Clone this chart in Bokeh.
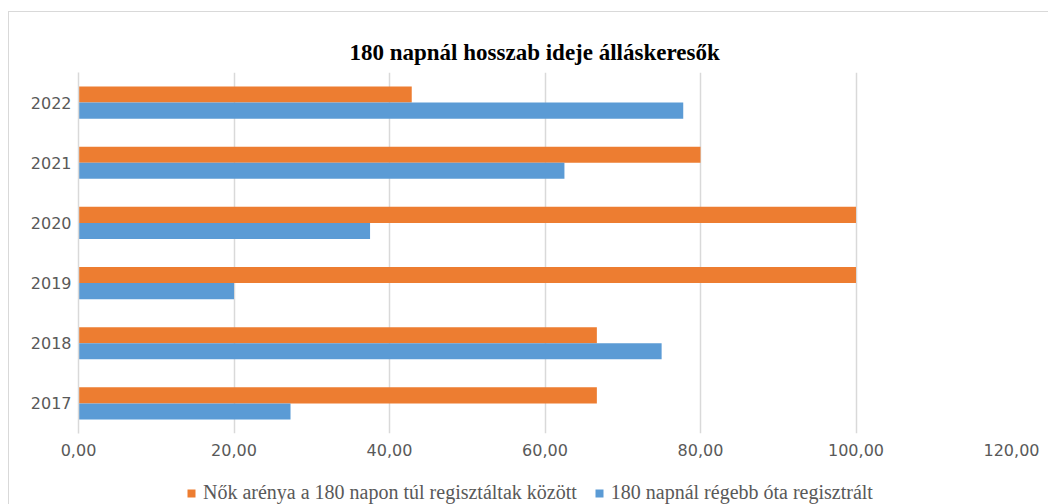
from bokeh.plotting import figure
from bokeh.layouts import column
from bokeh.models import (FactorRange, Range1d, ColumnDataSource, Legend, LegendItem,
                          CustomJSTickFormatter, FixedTicker)
from bokeh.transform import dodge
from bokeh.embed import file_html
from bokeh.resources import INLINE

years = ["2017", "2018", "2019", "2020", "2021", "2022"]
women_share = [66.67, 66.67, 100.0, 100.0, 80.0, 42.86]
long_term = [27.27, 75.0, 20.0, 37.5, 62.5, 77.78]
x_ticks = [0, 20, 40, 60, 80, 100, 120]
title_text = "180 napnál hosszab ideje álláskeresők"
label_women = "Nők arénya a 180 napon túl regisztáltak között"
label_long = "180 napnál régebb óta regisztrált"
color_women = "#ED7D31"
color_long = "#5B9BD5"

src = ColumnDataSource(dict(year=years, women=women_share, long=long_term))

p = figure(width=1039, height=451, output_backend="svg", toolbar_location=None,
           y_range=FactorRange(factors=years, range_padding=0),
           x_range=Range1d(0, 120),
           min_border_left=69, min_border_right=37, min_border_top=60, min_border_bottom=30)

p.title.text = title_text
p.title.align = "left"
p.title.offset = 271
p.title.standoff = 15
p.title.text_font = "Liberation Serif"
p.title.text_font_size = "23px"
p.title.text_font_style = "bold"
p.title.text_color = "#000000"

p.hbar(y=dodge("year", 0.1333, range=p.y_range), right="women", height=0.2667,
       source=src, color=color_women, line_color=None)
p.hbar(y=dodge("year", -0.1333, range=p.y_range), right="long", height=0.2667,
       source=src, color=color_long, line_color=None)

p.outline_line_color = None
p.xgrid.grid_line_color = "#d9d9d9"
p.xgrid.grid_line_width = 1.5
p.ygrid.grid_line_color = None

p.xaxis.ticker = FixedTicker(ticks=x_ticks)
p.xaxis.formatter = CustomJSTickFormatter(code="return tick.toFixed(2).replace('.', ',');")
p.xaxis.axis_line_color = None
p.xaxis.major_tick_line_color = None
p.xaxis.minor_tick_line_color = None
p.xaxis.major_tick_out = 0
p.xaxis.minor_tick_out = 0
p.xaxis.major_label_text_font = "DejaVu Sans"
p.xaxis.major_label_text_font_size = "16px"
p.xaxis.major_label_text_color = "#595959"
p.xaxis.major_label_standoff = 10

p.yaxis.axis_line_color = "#d9d9d9"
p.yaxis.axis_line_width = 1.5
p.yaxis.major_tick_line_color = None
p.yaxis.minor_tick_line_color = None
p.yaxis.major_tick_out = 0
p.yaxis.minor_tick_out = 0
p.yaxis.major_label_text_font = "DejaVu Sans"
p.yaxis.major_label_text_font_size = "16px"
p.yaxis.major_label_text_color = "#595959"
p.yaxis.major_label_standoff = 7

# legend strip below the chart (its zero-height bars only feed the legend swatches)
lf = figure(width=1039, height=41, output_backend="svg", toolbar_location=None,
            x_range=Range1d(1000, 1001), y_range=FactorRange(factors=years),
            min_border=0)
lf.axis.visible = False
lf.grid.grid_line_color = None
lf.outline_line_color = None
l1 = lf.hbar(y="year", right="women", height=0, source=src, color=color_women, line_color=None)
l2 = lf.hbar(y="year", right="long", height=0, source=src, color=color_long, line_color=None)
legend = Legend(items=[LegendItem(label=label_women, renderers=[l1]),
                       LegendItem(label=label_long, renderers=[l2])],
                orientation="horizontal", location=(108, 0),
                label_text_font="Liberation Serif", label_text_font_size="20px",
                label_text_color="#595959", glyph_width=10, glyph_height=10,
                label_standoff=7, spacing=17, padding=0, margin=0,
                border_line_color=None, background_fill_alpha=0)
lf.add_layout(legend, "center")

layout = column(p, lf, spacing=0)
layout.styles = {"border-left": "1px solid #d9d9d9", "border-top": "1px solid #d9d9d9",
                 "margin-left": "8px", "margin-top": "11px"}

open("out.html", "w").write(file_html(layout, INLINE))
